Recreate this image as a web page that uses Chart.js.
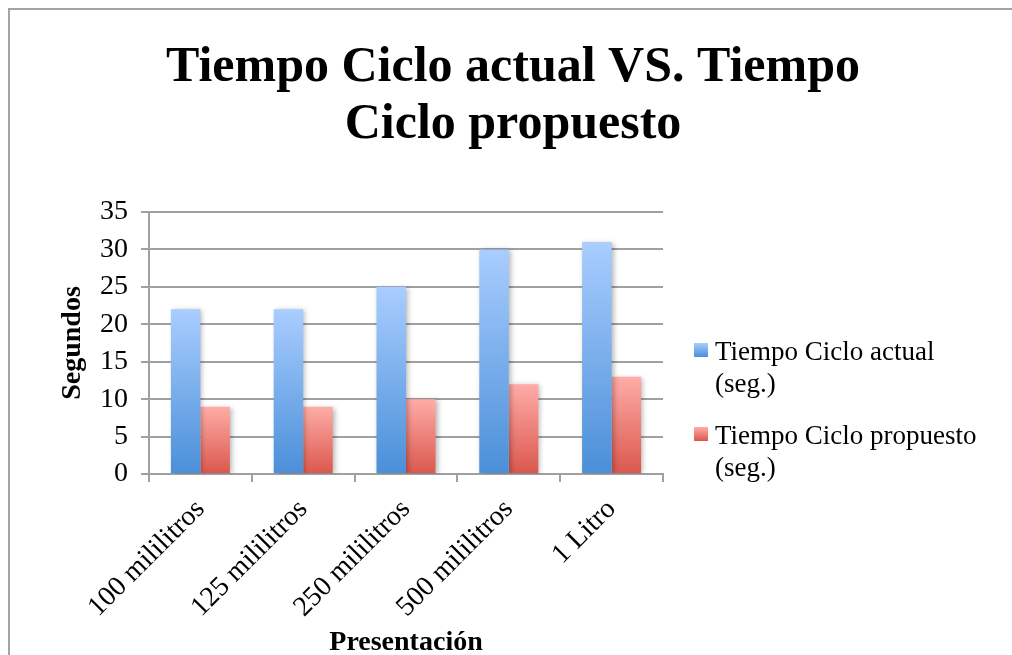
<!DOCTYPE html>
<html>
<head>
<meta charset="utf-8">
<title>Tiempo Ciclo actual VS. Tiempo Ciclo propuesto</title>
<script src="https://cdn.jsdelivr.net/npm/chart.js@4.4.1/dist/chart.umd.min.js"></script>
<style>
    html, body { margin: 0; padding: 0; background: #fff; overflow: hidden; }
    #frame { position: absolute; left: 8px; top: 8px; width: 1100px; height: 700px;
             border-top: 2px solid #a3a3a3; border-left: 2px solid #a3a3a3; }
    #wrap { position: absolute; left: 0; top: 0; width: 1012px; height: 655px; }
</style>
</head>
<body>
<div id="frame"></div>
<div id="wrap"><canvas id="chart"></canvas></div>
<script>
// data
const categories = ['100 mililitros', '125 mililitros', '250 mililitros', '500 mililitros', '1 Litro'];
const tiempoActual = [22, 22, 25, 30, 31];
const tiempoPropuesto = [9, 9, 10, 12, 13];
const seriesNames = ['Tiempo Ciclo actual (seg.)', 'Tiempo Ciclo propuesto (seg.)'];
const yTicks = [0, 5, 10, 15, 20, 25, 30, 35];

const serif = '"Liberation Serif", "Times New Roman", serif';
const gridGray = '#a0a0a0';
const blueShade = ['#a9cdff', '#4a8fd8'];
const redShade = ['#ffaca7', '#da574c'];

// vertical gradient per bar, from its top down to zero
function barGradient(shade) {
    return function(context) {
        const chart = context.chart;
        if (!chart.chartArea || context.type !== 'data') return shade[1];
        const yScale = chart.scales.y;
        const top = yScale.getPixelForValue(context.raw);
        const base = yScale.getPixelForValue(0);
        const g = chart.ctx.createLinearGradient(0, top, 0, base);
        g.addColorStop(0, shade[0]);
        g.addColorStop(1, shade[1]);
        return g;
    };
}

function wrapText(ctx, text, maxWidth) {
    const words = text.split(' ');
    const lines = [];
    let line = '';
    words.forEach(w => {
        const test = line ? line + ' ' + w : w;
        if (line && ctx.measureText(test).width > maxWidth) {
            lines.push(line);
            line = w;
        } else {
            line = test;
        }
    });
    if (line) lines.push(line);
    return lines;
}

// soft shadow behind the bars
const barShadow = {
    id: 'barShadow',
    beforeDatasetsDraw(chart) {
        const c = chart.ctx;
        c.save();
        c.shadowColor = 'rgba(0,0,0,0.28)';
        c.shadowBlur = 5;
        c.shadowOffsetX = 2;
        c.shadowOffsetY = 1;
    },
    afterDatasetsDraw(chart) {
        chart.ctx.restore();
    }
};

// legend on the right, labels wrap onto two lines
const sideLegend = {
    id: 'sideLegend',
    afterDraw(chart) {
        const ctx = chart.ctx;
        const area = chart.chartArea;
        const x0 = area.right + 31;
        let y = area.top + 131;
        ctx.save();
        ctx.font = '27px ' + serif;
        ctx.fillStyle = '#000';
        ctx.textBaseline = 'alphabetic';
        ctx.textAlign = 'left';
        chart.data.datasets.forEach(ds => {
            const g = ctx.createLinearGradient(0, y, 0, y + 14);
            g.addColorStop(0, ds.shade[0]);
            g.addColorStop(1, ds.shade[1]);
            ctx.fillStyle = g;
            ctx.fillRect(x0, y, 14, 14);
            ctx.fillStyle = '#000';
            wrapText(ctx, ds.label, 280).forEach((line, j) => {
                ctx.fillText(line, x0 + 21, y + 17 + j * 32);
            });
            y += 84;
        });
        ctx.restore();
    }
};

new Chart(document.getElementById('chart'), {
    type: 'bar',
    data: {
        labels: categories,
        datasets: [{
            label: seriesNames[0],
            data: tiempoActual,
            shade: blueShade,
            backgroundColor: barGradient(blueShade),
            categoryPercentage: 0.574,
            barPercentage: 1
        }, {
            label: seriesNames[1],
            data: tiempoPropuesto,
            shade: redShade,
            backgroundColor: barGradient(redShade),
            categoryPercentage: 0.574,
            barPercentage: 1
        }]
    },
    options: {
        responsive: true,
        maintainAspectRatio: false,
        animation: false,
        events: [],
        layout: { padding: { left: 14, top: 0, right: 0, bottom: 0 } },
        plugins: {
            legend: { display: false },
            tooltip: { enabled: false },
            title: {
                display: true,
                text: ['Tiempo Ciclo actual VS. Tiempo', 'Ciclo propuesto'],
                color: '#000',
                font: { family: serif, size: 50, weight: 'bold', lineHeight: 1.15 },
                padding: { top: 39, bottom: 58 }
            }
        },
        scales: {
            x: {
                grid: { display: true, offset: true, drawOnChartArea: false, drawTicks: true,
                        tickLength: 8, color: gridGray, lineWidth: 2 },
                border: { display: true, color: gridGray, width: 2 },
                ticks: { color: '#000', font: { family: serif, size: 28 },
                         minRotation: 45, maxRotation: 45, padding: 11, autoSkip: false },
                title: { display: true, text: 'Presentación', color: '#000',
                         font: { family: serif, size: 28, weight: 'bold', lineHeight: 0.85 },
                         padding: 0 },
                afterFit(scale) { scale.height = 181; }
            },
            y: {
                min: yTicks[0],
                max: yTicks[yTicks.length - 1],
                ticks: { stepSize: yTicks[1] - yTicks[0], color: '#000',
                         font: { family: serif, size: 28 }, padding: 13 },
                grid: { color: gridGray, lineWidth: 2, tickLength: 8 },
                border: { display: true, color: gridGray, width: 2 },
                title: { display: true, text: 'Segundos', color: '#000',
                         font: { family: serif, size: 28, weight: 'bold', lineHeight: 1.2 },
                         padding: { top: 42, bottom: 0 } },
                afterFit(scale) { scale.width = 135; }
            },
            // empty axis that only reserves room for the legend
            legendSpace: {
                type: 'linear',
                axis: 'y',
                position: 'right',
                display: true,
                grid: { display: false },
                border: { display: false },
                ticks: { display: false },
                afterFit(scale) { scale.width = 349; }
            }
        }
    },
    plugins: [barShadow, sideLegend]
});
</script>
</body>
</html>
